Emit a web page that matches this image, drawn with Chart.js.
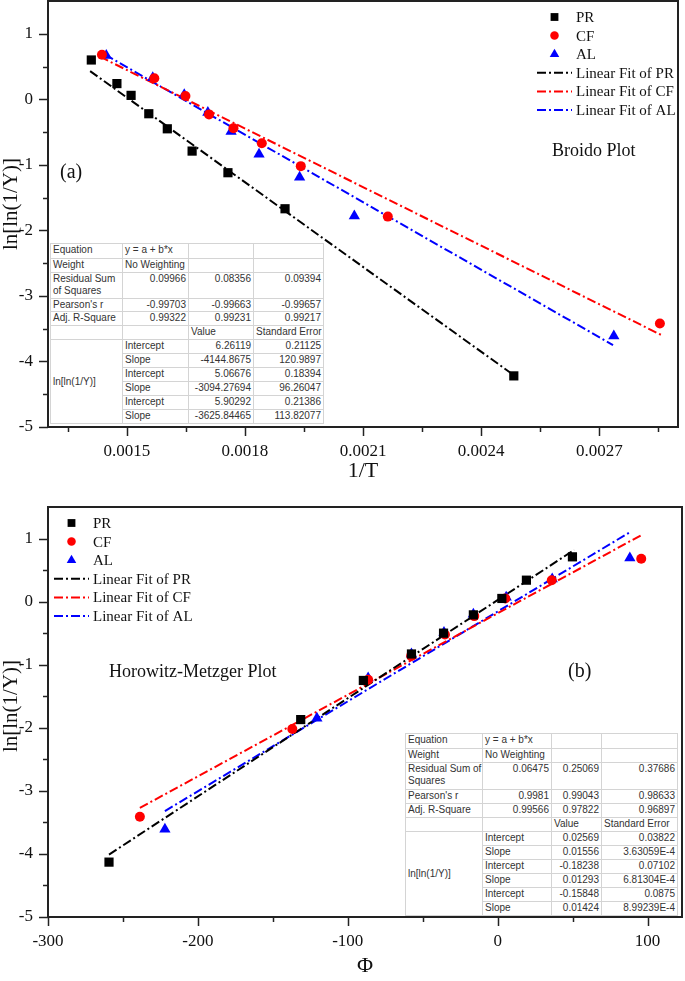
<!DOCTYPE html>
<html>
<head>
<meta charset="utf-8">
<script src="https://cdn.jsdelivr.net/npm/chart.js@4.4.1/dist/chart.umd.min.js"></script>
<style>
  body { margin: 0; background: #fff; width: 685px; height: 981px; position: relative; overflow: hidden; }
  .box { position: absolute; left: 0; width: 685px; }
  canvas { display: block; }
  table.fit { position: absolute; border-collapse: collapse; table-layout: fixed; background: #fff;
    font-family: "Liberation Sans", Arial, sans-serif; font-size: 10px; color: #333;
    border: 1px solid #999; }
  table.fit td { border: 1px solid #d4d4d4; padding: 0 2px; line-height: 12px; vertical-align: top;
    white-space: nowrap; overflow: hidden; }
  table.fit td.n { text-align: right; }
  table.fit td.m { vertical-align: middle; }
</style>
</head>
<body>
<div class="box" style="top:0;height:490px"><canvas id="broido" width="685" height="490"></canvas></div>
<div class="box" style="top:490px;height:491px"><canvas id="hm" width="685" height="491"></canvas></div>

<table class="fit" style="left:50px;top:243px;width:273px">
  <colgroup><col style="width:72px"><col style="width:66px"><col style="width:65px"><col style="width:70px"></colgroup>
  <tr style="height:15px"><td>Equation</td><td>y = a + b*x</td><td></td><td></td></tr>
  <tr style="height:14px"><td>Weight</td><td>No Weighting</td><td></td><td></td></tr>
  <tr style="height:26px"><td>Residual Sum<br>of Squares</td><td class="n">0.09966</td><td class="n">0.08356</td><td class="n">0.09394</td></tr>
  <tr style="height:13px"><td>Pearson's r</td><td class="n">-0.99703</td><td class="n">-0.99663</td><td class="n">-0.99657</td></tr>
  <tr style="height:14px"><td>Adj. R-Square</td><td class="n">0.99322</td><td class="n">0.99231</td><td class="n">0.99217</td></tr>
  <tr style="height:14px"><td></td><td></td><td>Value</td><td>Standard Error</td></tr>
  <tr style="height:14px"><td class="m" rowspan="6">ln[ln(1/Y)]</td><td>Intercept</td><td class="n">6.26119</td><td class="n">0.21125</td></tr>
  <tr style="height:14px"><td>Slope</td><td class="n">-4144.8675</td><td class="n">120.9897</td></tr>
  <tr style="height:14px"><td>Intercept</td><td class="n">5.06676</td><td class="n">0.18394</td></tr>
  <tr style="height:14px"><td>Slope</td><td class="n">-3094.27694</td><td class="n">96.26047</td></tr>
  <tr style="height:14px"><td>Intercept</td><td class="n">5.90292</td><td class="n">0.21386</td></tr>
  <tr style="height:14px"><td>Slope</td><td class="n">-3625.84465</td><td class="n">113.82077</td></tr>
</table>

<table class="fit" style="left:405px;top:733px;width:272px">
  <colgroup><col style="width:77px"><col style="width:69px"><col style="width:50px"><col style="width:76px"></colgroup>
  <tr style="height:15px"><td>Equation</td><td>y = a + b*x</td><td></td><td></td></tr>
  <tr style="height:14px"><td>Weight</td><td>No Weighting</td><td></td><td></td></tr>
  <tr style="height:27px"><td>Residual Sum of<br>Squares</td><td class="n">0.06475</td><td class="n">0.25069</td><td class="n">0.37686</td></tr>
  <tr style="height:14px"><td>Pearson's r</td><td class="n">0.9981</td><td class="n">0.99043</td><td class="n">0.98633</td></tr>
  <tr style="height:14px"><td>Adj. R-Square</td><td class="n">0.99566</td><td class="n">0.97822</td><td class="n">0.96897</td></tr>
  <tr style="height:14px"><td></td><td></td><td>Value</td><td>Standard Error</td></tr>
  <tr style="height:14px"><td class="m" rowspan="6">ln[ln(1/Y)]</td><td>Intercept</td><td class="n">0.02569</td><td class="n">0.03822</td></tr>
  <tr style="height:14px"><td>Slope</td><td class="n">0.01556</td><td class="n">3.63059E-4</td></tr>
  <tr style="height:14px"><td>Intercept</td><td class="n">-0.18238</td><td class="n">0.07102</td></tr>
  <tr style="height:14px"><td>Slope</td><td class="n">0.01293</td><td class="n">6.81304E-4</td></tr>
  <tr style="height:14px"><td>Intercept</td><td class="n">-0.15848</td><td class="n">0.0875</td></tr>
  <tr style="height:14px"><td>Slope</td><td class="n">0.01424</td><td class="n">8.99239E-4</td></tr>
</table>

<script>
// Broido plot (a): ln[ln(1/Y)] vs 1/T
const broidoPR_x = [0.001410, 0.001475, 0.001511, 0.001556, 0.001603, 0.001666, 0.001757, 0.001902, 0.002483];
const broidoPR_y = [0.60, 0.24, 0.06, -0.22, -0.45, -0.79, -1.12, -1.67, -4.22];
const broidoCF_x = [0.001437, 0.001570, 0.001649, 0.001709, 0.001771, 0.001843, 0.001942, 0.002163, 0.002854];
const broidoCF_y = [0.68, 0.32, 0.05, -0.23, -0.44, -0.67, -1.02, -1.79, -3.42];
const broidoAL_x = [0.001448, 0.001566, 0.001646, 0.001706, 0.001765, 0.001836, 0.001939, 0.002078, 0.002737];
const broidoAL_y = [0.67, 0.33, 0.07, -0.20, -0.49, -0.84, -1.19, -1.78, -3.61];
// fitted lines, end points
const broidoFitPR_x = [0.001407, 0.002481];
const broidoFitPR_y = [0.43, -4.20];
const broidoFitCF_x = [0.001432, 0.002859];
const broidoFitCF_y = [0.65, -3.60];
const broidoFitAL_x = [0.001445, 0.002735];
const broidoFitAL_y = [0.68, -3.75];
const broidoXTicks = [0.0015, 0.0018, 0.0021, 0.0024, 0.0027];
const broidoXMinor = [0.00135, 0.00165, 0.00195, 0.00225, 0.00255, 0.00285];

// Horowitz-Metzger plot (b): ln[ln(1/Y)] vs Φ
const hmPR_x = [-259.3, -131.4, -89.6, -57.5, -36.1, -16.2, 2.8, 19.2, 49.9];
const hmPR_y = [-4.13, -1.87, -1.25, -0.83, -0.50, -0.21, 0.05, 0.34, 0.71];
const hmCF_x = [-238.7, -137.0, -86.4, -57.7, -35.2, -15.6, 5.1, 36.1, 95.8];
const hmCF_y = [-3.41, -2.02, -1.24, -0.86, -0.52, -0.23, 0.05, 0.34, 0.68];
const hmAL_x = [-222.0, -120.6, -86.4, -57.5, -35.8, -16.2, 5.7, 36.4, 88.2];
const hmAL_y = [-3.61, -1.85, -1.21, -0.83, -0.49, -0.20, 0.07, 0.36, 0.69];
const hmFitPR_x = [-259.3, 51.1];
const hmFitPR_y = [-4.01, 0.82];
const hmFitCF_x = [-238.7, 96.3];
const hmFitCF_y = [-3.27, 1.06];
const hmFitAL_x = [-222.0, 88.2];
const hmFitAL_y = [-3.32, 1.10];
const hmXTicks = [-300, -200, -100, 0, 100];
const hmXMinor = [-250, -150, -50, 50];

const yTicks = [-5, -4, -3, -2, -1, 0, 1];
const yMinor = [-4.5, -3.5, -2.5, -1.5, -0.5, 0.5];
const seriesNames = ['PR', 'CF', 'AL'];
const yTitle = 'ln[ln(1/Y)]';

const SERIF = '"Liberation Serif", "Times New Roman", serif';
const colors = ['#000000', '#ff0000', '#0000ff'];
const styles = ['rect', 'circle', 'triangle'];
const radii = [6.5, 5, 6.5];
const dashDot = [9, 3, 2, 3];

const pts = (xs, ys) => xs.map((x, i) => ({ x: x, y: ys[i] }));

function makeDatasets(points, fits) {
    const ds = points.map((p, i) => ({
        label: seriesNames[i],
        data: pts(p[0], p[1]),
        pointStyle: styles[i],
        pointRadius: radii[i],
        pointBackgroundColor: colors[i],
        pointBorderWidth: 0,
        backgroundColor: colors[i],
        showLine: false
    }));
    fits.forEach((f, i) => ds.push({
        label: 'Linear Fit of ' + seriesNames[i],
        data: pts(f[0], f[1]),
        showLine: true,
        pointRadius: 0,
        borderColor: colors[i],
        borderWidth: 2,
        borderDash: dashDot
    }));
    return ds;
}

function drawMarker(ctx, style, x, y, r, color) {
    ctx.fillStyle = color;
    ctx.beginPath();
    if (style === 'rect') {
        const s = r * Math.SQRT1_2;
        ctx.rect(x - s, y - s, 2 * s, 2 * s);
    } else if (style === 'circle') {
        ctx.arc(x, y, r, 0, Math.PI * 2);
    } else {
        ctx.moveTo(x, y - r);
        ctx.lineTo(x + r * 0.866, y + r * 0.5);
        ctx.lineTo(x - r * 0.866, y + r * 0.5);
        ctx.closePath();
    }
    ctx.fill();
}

// frame, outward tick marks, y title, legend and text notes
const decor = {
    id: 'decor',
    afterDraw(chart, args, o) {
        const { ctx, chartArea: a, scales: { x, y } } = chart;
        ctx.save();
        ctx.strokeStyle = '#222';
        ctx.lineWidth = 1.5;
        const tx = (vals, len) => vals.forEach(v => {
            const px = Math.round(x.getPixelForValue(v)) + 0.5;
            ctx.beginPath(); ctx.moveTo(px, a.bottom); ctx.lineTo(px, a.bottom + len); ctx.stroke();
        });
        const ty = (vals, len) => vals.forEach(v => {
            const py = Math.round(y.getPixelForValue(v)) + 0.5;
            ctx.beginPath(); ctx.moveTo(a.left, py); ctx.lineTo(a.left - len, py); ctx.stroke();
        });
        tx(o.xMajor, 9); tx(o.xMinor, 5);
        ty(yTicks, 9); ty(yMinor, 5);
        ctx.lineWidth = 2;
        ctx.strokeRect(a.left, a.top, a.right - a.left, a.bottom - a.top);

        // y title
        ctx.save();
        ctx.translate(11, o.yTitleY);
        ctx.rotate(-Math.PI / 2);
        ctx.font = '21px ' + SERIF;
        ctx.fillStyle = '#111';
        ctx.textAlign = 'center';
        ctx.textBaseline = 'middle';
        ctx.fillText(yTitle, 0, 0);
        ctx.restore();

        // legend
        ctx.font = '15px ' + SERIF;
        ctx.textBaseline = 'middle';
        ctx.textAlign = 'left';
        chart.data.datasets.forEach((d, i) => {
            const ly = o.legY + i * o.legDy;
            const k = i % 3;
            if (d.showLine) {
                ctx.save();
                ctx.strokeStyle = colors[k];
                ctx.lineWidth = 2;
                ctx.setLineDash(dashDot);
                ctx.beginPath(); ctx.moveTo(o.legX0, ly); ctx.lineTo(o.legX1, ly); ctx.stroke();
                ctx.restore();
            } else {
                drawMarker(ctx, styles[k], (o.legX0 + o.legX1) / 2, ly, radii[k] * 0.85, colors[k]);
            }
            ctx.fillStyle = '#111';
            ctx.fillText(d.label, o.legText, ly + 1);
        });

        // notes
        o.notes.forEach(n => {
            ctx.font = n.size + 'px ' + SERIF;
            ctx.fillStyle = '#111';
            ctx.textAlign = 'left';
            ctx.fillText(n.text, n.x, n.y);
        });
        ctx.restore();
    }
};

function makeChart(id, cfg) {
    return new Chart(document.getElementById(id), {
        type: 'scatter',
        data: { datasets: makeDatasets(cfg.points, cfg.fits) },
        options: {
            responsive: false,
            animation: false,
            layout: { padding: cfg.padding, autoPadding: false },
            plugins: {
                legend: { display: false },
                tooltip: { enabled: false },
                decor: cfg.decor
            },
            scales: {
                x: {
                    type: 'linear',
                    min: cfg.xMin, max: cfg.xMax,
                    afterBuildTicks: s => { s.ticks = cfg.xTicks.map(v => ({ value: v })); },
                    afterFit: s => { s.height = cfg.xHeight; s.paddingLeft = 0; s.paddingRight = 0; },
                    grid: { display: true, drawOnChartArea: false, drawTicks: false },
                    border: { display: false },
                    ticks: {
                        padding: 14, color: '#111', maxRotation: 0,
                        font: { family: SERIF, size: 17 },
                        callback: cfg.xFormat
                    },
                    title: { display: true, text: cfg.xTitle, color: '#111',
                        font: { family: SERIF, size: 22 }, padding: { top: 0, bottom: cfg.xTitlePad } }
                },
                y: {
                    type: 'linear',
                    min: -5, max: 1.5,
                    afterBuildTicks: s => { s.ticks = yTicks.map(v => ({ value: v })); },
                    afterFit: s => { s.width = 48; s.paddingTop = 0; s.paddingBottom = 0; },
                    grid: { display: true, drawOnChartArea: false, drawTicks: false },
                    border: { display: false },
                    ticks: { padding: 15, color: '#111', font: { family: SERIF, size: 17 } },
                    title: { display: false }
                }
            }
        },
        plugins: [decor]
    });
}

makeChart('broido', {
    points: [[broidoPR_x, broidoPR_y], [broidoCF_x, broidoCF_y], [broidoAL_x, broidoAL_y]],
    fits: [[broidoFitPR_x, broidoFitPR_y], [broidoFitCF_x, broidoFitCF_y], [broidoFitAL_x, broidoFitAL_y]],
    padding: { top: 1, right: 7, left: 0, bottom: 0 },
    xMin: 0.0013, xMax: 0.0029,
    xTicks: broidoXTicks,
    xHeight: 63,
    xFormat: v => v.toFixed(4),
    xTitle: '1/T',
    xTitlePad: 6,
    decor: {
        xMajor: broidoXTicks, xMinor: broidoXMinor, yTitleY: 204,
        legX0: 537, legX1: 572, legText: 576, legY: 17, legDy: 18.6,
        notes: [
            { text: 'Broido Plot', x: 552, y: 151, size: 18 },
            { text: '(a)', x: 60, y: 173, size: 20 }
        ]
    }
});

makeChart('hm', {
    points: [[hmPR_x, hmPR_y], [hmCF_x, hmCF_y], [hmAL_x, hmAL_y]],
    fits: [[hmFitPR_x, hmFitPR_y], [hmFitCF_x, hmFitCF_y], [hmFitAL_x, hmFitAL_y]],
    padding: { top: 17, right: 3, left: 0, bottom: 0 },
    xMin: -300, xMax: 123,
    xTicks: hmXTicks,
    xHeight: 64,
    xFormat: v => String(v),
    xTitle: 'Φ',
    xTitlePad: 2,
    decor: {
        xMajor: hmXTicks, xMinor: hmXMinor, yTitleY: 216,
        legX0: 54, legX1: 89, legText: 93, legY: 33, legDy: 18.6,
        notes: [
            { text: 'Horowitz-Metzger Plot', x: 109, y: 182, size: 18 },
            { text: '(b)', x: 568, y: 182, size: 20 }
        ]
    }
});
</script>
</body>
</html>
